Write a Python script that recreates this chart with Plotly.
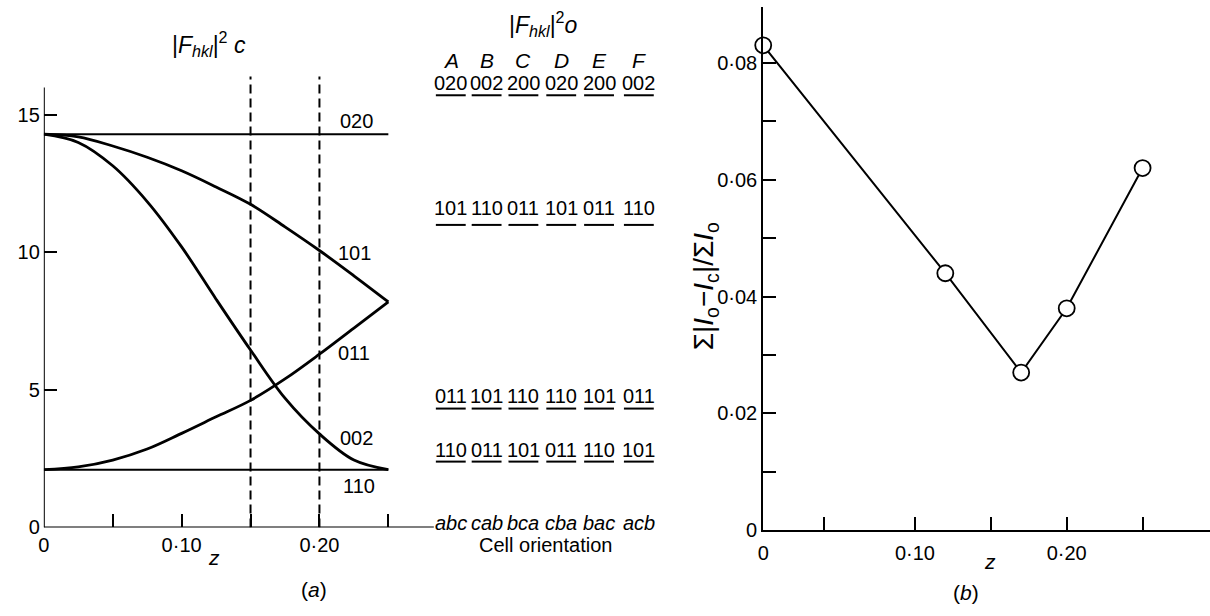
import plotly.graph_objects as go

# ---------------- data ----------------
# (a) calculated |F_hkl|^2 versus z
z_grid = [0, 0.025, 0.05, 0.075, 0.10, 0.125, 0.15, 0.175, 0.20, 0.225, 0.25]
f_020 = [14.3, 14.3, 14.3, 14.3, 14.3, 14.3, 14.3, 14.3, 14.3, 14.3, 14.3]
f_101 = [14.3, 14.2, 13.87, 13.46, 12.97, 12.38, 11.75, 10.93, 10.07, 9.15, 8.2]
f_011 = [2.1, 2.2, 2.45, 2.85, 3.42, 4.02, 4.62, 5.4, 6.3, 7.25, 8.2]
f_002 = [14.3, 14.0, 13.15, 11.85, 10.2, 8.3, 6.45, 4.7, 3.4, 2.45, 2.1]
f_110 = [2.1, 2.1, 2.1, 2.1, 2.1, 2.1, 2.1, 2.1, 2.1, 2.1, 2.1]
curve_names = ["020", "101", "011", "002", "110"]
z_marks = [0.15, 0.20]

# observed table
cols = ["A", "B", "C", "D", "E", "F"]
row_1 = ["020", "002", "200", "020", "200", "002"]
row_2 = ["101", "110", "011", "101", "011", "110"]
row_3 = ["011", "101", "110", "110", "101", "011"]
row_4 = ["110", "011", "101", "011", "110", "101"]
orient = ["abc", "cab", "bca", "cba", "bac", "acb"]

# (b) residual versus z
z_b = [0, 0.12, 0.17, 0.20, 0.25]
r_b = [0.083, 0.044, 0.027, 0.038, 0.062]

# tick labels
xa_tickvals = [0, 0.10, 0.20]
xa_ticktext = ["0", "0·10", "0·20"]
xa_minor = [0.05, 0.15, 0.25]
ya_tickvals = [0, 5, 10, 15]
ya_ticktext = ["0", "5", "10", "15"]
xb_tickvals = [0, 0.10, 0.20]
xb_ticktext = ["0", "0·10", "0·20"]
xb_minor = [0.04, 0.15, 0.25]
yb_tickvals = [0, 0.02, 0.04, 0.06, 0.08]
yb_ticktext = ["0", "0·02", "0·04", "0·06", "0·08"]
yb_minor = [0.01, 0.03, 0.05, 0.07]

# ---------------- layout helpers ----------------
W, H = 1210, 616
FONT = "Liberation Sans"


def px(x):
    return x / W


def py(y):
    return (H - y) / H


fig = go.Figure()

curves = [f_020, f_101, f_011, f_002, f_110]
widths = [2, 2.8, 2.8, 2.8, 2]
for name, vals, w in zip(curve_names, curves, widths):
    fig.add_trace(go.Scatter(x=z_grid, y=vals, mode="lines", name=name,
                             line=dict(color="black", width=w, shape="spline", smoothing=1.0),
                             xaxis="x", yaxis="y", hoverinfo="skip"))

for zm in z_marks:
    fig.add_trace(go.Scatter(x=[zm, zm], y=[0, 16.4], mode="lines",
                             line=dict(color="black", width=2, dash="9px,5px"),
                             xaxis="x", yaxis="y", hoverinfo="skip"))

fig.add_trace(go.Scatter(x=z_b, y=r_b, mode="lines+markers",
                         line=dict(color="black", width=2),
                         marker=dict(symbol="circle", size=16, color="white",
                                     line=dict(color="black", width=1.8)),
                         xaxis="x2", yaxis="y2", hoverinfo="skip", cliponaxis=False))

axis_common = dict(showgrid=False, zeroline=False, ticks="inside", tickcolor="black",
                   tickwidth=2, ticklen=13, tickfont=dict(family=FONT, size=20, color="black"))


def minor(vals):
    return dict(tickmode="array", tickvals=vals, ticks="inside", ticklen=13,
                tickwidth=2, tickcolor="black", showgrid=False)


fig.update_layout(
    width=W, height=H, margin=dict(l=0, r=0, t=0, b=0),
    paper_bgcolor="white", plot_bgcolor="white", showlegend=False,
    font=dict(family=FONT, color="black"),
    xaxis=dict(domain=[px(38), px(660)], range=[0, 622 / 1385], showline=False,
               tickmode="array", tickvals=xa_tickvals, ticktext=xa_ticktext,
               minor=minor(xa_minor),
               ticklabelstandoff=4, anchor="y", **axis_common),
    yaxis=dict(domain=[py(537), py(5)], range=[0, 19], showline=False,
               tickmode="array", tickvals=ya_tickvals, ticktext=ya_ticktext,
               ticklabelstandoff=3, anchor="x", **axis_common),
    xaxis2=dict(domain=[px(761), 1.0], range=[0, 449 / 1525], showline=True,
                linecolor="black", linewidth=2,
                tickmode="array", tickvals=xb_tickvals, ticktext=xb_ticktext,
                minor=minor(xb_minor),
                ticklabelstandoff=4, anchor="y2", **axis_common),
    yaxis2=dict(domain=[py(540), py(7)], range=[0, 533 / 5950], showline=True,
                linecolor="black", linewidth=2,
                tickmode="array", tickvals=yb_tickvals, ticktext=yb_ticktext,
                minor=minor(yb_minor),
                anchor="x2", **axis_common),
)

# left panel axis lines (drawn only over the graph part)
fig.add_shape(type="line", xref="x", yref="y", x0=0, x1=0.283, y0=0, y1=0,
              line=dict(color="black", width=2))
fig.add_shape(type="line", xref="x", yref="y", x0=0, x1=0, y0=0, y1=16.0,
              line=dict(color="black", width=2))

ann = []


def text(x, y, s, size=20, **kw):
    ann.append(dict(x=px(x), y=py(y), xref="paper", yref="paper", text=s, showarrow=False,
                    font=dict(family=FONT, size=size, color="black"),
                    xanchor=kw.get("xanchor", "center"), yanchor="middle",
                    textangle=kw.get("textangle", 0)))


# curve labels
label_pos = {"020": (352, 123), "101": (350, 258), "011": (350, 359),
             "002": (352, 446), "110": (355, 495)}
for name in curve_names:
    x, y = label_pos[name]
    text(x, y, name)

text(204, 45, "|<i>F</i><sub><i>hkl</i></sub>|<sup>2</sup> <i>c</i>", size=23)
text(209, 568, "<i>z</i>", size=21)
text(310, 600, "(<i>a</i>)", size=21)

# table
col_x = [447, 483, 520, 558, 596, 636]
text(540, 24, "|<i>F</i><sub><i>hkl</i></sub>|<sup>2</sup><i>o</i>", size=23)
rows = [(row_1, 84, 97), (row_2, 212, 229), (row_3, 403, 416), (row_4, 458, 470)]
for cx, c in zip(col_x, cols):
    text(cx, 62, "<i>" + c + "</i>", size=21)
for labels, ty, uy in rows:
    for cx, lab in zip(col_x, labels):
        text(cx, ty, lab, size=20)
        fig.add_shape(type="line", xref="paper", yref="paper",
                      x0=px(cx - 15), x1=px(cx + 15), y0=py(uy), y1=py(uy),
                      line=dict(color="black", width=2))
for cx, o in zip(col_x, orient):
    text(cx, 532, "<i>" + o + "</i>", size=20)
text(542, 555, "Cell orientation", size=20)

# right panel texts
text(703, 292, "Σ|<i>I</i><sub>o</sub>−<i>I</i><sub>c</sub>|/Σ<i>I</i><sub>o</sub>", size=28, textangle=-90)
text(989, 572, "<i>z</i>", size=21)
text(965, 603, "(<i>b</i>)", size=21)

fig.update_layout(annotations=ann)
fig.write_html("out.html", config={"displayModeBar": False},
               post_script="document.body.style.margin='0';document.body.style.overflow='hidden';")
